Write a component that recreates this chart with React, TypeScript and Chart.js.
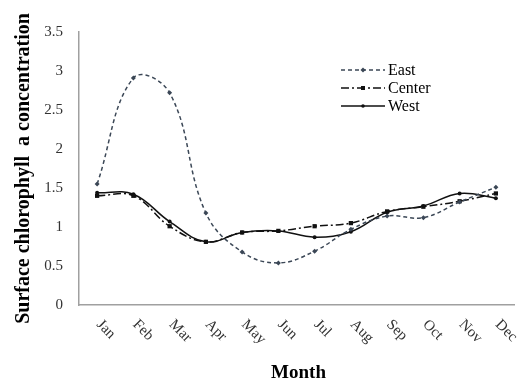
import React, { useEffect, useRef } from "react";
import { Chart, registerables } from "chart.js";

Chart.register(...registerables);

const months = ["Jan", "Feb", "Mar", "Apr", "May", "Jun", "Jul", "Aug", "Sep", "Oct", "Nov", "Dec"];
const east = [1.55, 2.91, 2.72, 1.18, 0.68, 0.54, 0.69, 0.97, 1.14, 1.12, 1.32, 1.51];
const center = [1.4, 1.4, 1.01, 0.81, 0.93, 0.95, 1.01, 1.05, 1.2, 1.26, 1.33, 1.43];
const west = [1.44, 1.42, 1.07, 0.81, 0.93, 0.95, 0.87, 0.94, 1.19, 1.27, 1.43, 1.37];
const yTitle = "Surface chlorophyll  a concentration";
const xTitle = "Month";

const EAST_COLOR = "#3b4756";
const SERIF = "'Liberation Serif', 'Times New Roman', serif";

const legendItems = [
  { label: "East", color: EAST_COLOR, dash: [4, 3], marker: "diamond" },
  { label: "Center", color: "#111", dash: [8, 3, 2, 3], marker: "rect" },
  { label: "West", color: "#111", dash: [], marker: "circle" },
];

function drawMarker(ctx: CanvasRenderingContext2D, kind: string, x: number, y: number, color: string) {
  ctx.save();
  ctx.fillStyle = color;
  ctx.setLineDash([]);
  ctx.beginPath();
  if (kind === "rect") {
    ctx.rect(x - 2, y - 2, 4, 4);
  } else if (kind === "diamond") {
    ctx.moveTo(x, y - 2.5);
    ctx.lineTo(x + 2.5, y);
    ctx.lineTo(x, y + 2.5);
    ctx.lineTo(x - 2.5, y);
    ctx.closePath();
  } else {
    ctx.arc(x, y, 1.8, 0, Math.PI * 2);
  }
  ctx.fill();
  ctx.restore();
}

const decorPlugin = {
  id: "decor",
  afterDraw(chart: any) {
    const ctx: CanvasRenderingContext2D = chart.ctx;
    const xs = chart.scales.x;
    const area = chart.chartArea;
    ctx.save();
    // x tick labels rotated clockwise
    ctx.fillStyle = "#333";
    ctx.font = `15px ${SERIF}`;
    ctx.textAlign = "left";
    ctx.textBaseline = "top";
    months.forEach((m, i) => {
      const px = xs.getPixelForTick(i);
      ctx.save();
      ctx.translate(px + 7, area.bottom + 12);
      ctx.rotate(Math.PI / 4);
      ctx.fillText(m, 0, 0);
      ctx.restore();
    });
    // axis titles
    ctx.fillStyle = "#000";
    ctx.font = `bold 19px ${SERIF}`;
    ctx.textAlign = "center";
    ctx.textBaseline = "alphabetic";
    ctx.fillText(xTitle, (area.left + area.right) / 2 + 2, 378);
    ctx.save();
    ctx.translate(29, (area.top + area.bottom) / 2);
    ctx.rotate(-Math.PI / 2);
    ctx.font = `bold 20px ${SERIF}`;
    ctx.textBaseline = "alphabetic";
    ctx.fillText(yTitle, 0, 0);
    ctx.restore();
    // legend
    ctx.font = `16px ${SERIF}`;
    ctx.textAlign = "left";
    ctx.textBaseline = "middle";
    legendItems.forEach((it, i) => {
      const y = 70 + i * 18;
      ctx.save();
      ctx.strokeStyle = it.color;
      ctx.lineWidth = 1.3;
      ctx.setLineDash(it.dash);
      ctx.beginPath();
      ctx.moveTo(341, y);
      ctx.lineTo(385, y);
      ctx.stroke();
      ctx.restore();
      drawMarker(ctx, it.marker, 363, y, it.color);
      ctx.fillStyle = "#000";
      ctx.fillText(it.label, 388, y + 1);
    });
    ctx.restore();
  },
};

export default function App() {
  const ref = useRef<HTMLCanvasElement | null>(null);
  useEffect(() => {
    document.body.style.margin = "0";
    document.body.style.overflow = "hidden";
    const canvas = ref.current!;
    const chart = new Chart(canvas, {
      type: "line",
      data: {
        labels: months,
        datasets: [
          {
            label: "East",
            data: east,
            borderColor: EAST_COLOR,
            backgroundColor: EAST_COLOR,
            borderWidth: 1.5,
            borderDash: [4, 3],
            pointStyle: "rectRot",
            pointRadius: 2.5,
            pointBorderWidth: 0,
            tension: 0.4,
            fill: false,
          },
          {
            label: "Center",
            data: center,
            borderColor: "#111",
            backgroundColor: "#111",
            borderWidth: 1.5,
            borderDash: [8, 3, 2, 3],
            pointStyle: "rect",
            pointRadius: 3,
            pointBorderWidth: 0,
            tension: 0.4,
            fill: false,
          },
          {
            label: "West",
            data: west,
            borderColor: "#111",
            backgroundColor: "#111",
            borderWidth: 1.5,
            pointStyle: "circle",
            pointRadius: 2,
            pointBorderWidth: 0,
            tension: 0.4,
            fill: false,
          },
        ],
      },
      options: {
        animation: false,
        responsive: false,
        maintainAspectRatio: false,
        devicePixelRatio: 1,
        layout: { padding: { top: 32, right: 0, left: 0, bottom: 0 } },
        plugins: {
          legend: { display: false },
          tooltip: { enabled: false },
          title: { display: false },
        },
        scales: {
          x: {
            offset: true,
            grid: { display: false },
            border: { display: true, color: "#a0a0a0", width: 1.5 },
            ticks: { display: false },
            afterFit: (s: any) => {
              s.height = 76;
            },
          },
          y: {
            min: 0,
            max: 3.5,
            grid: { display: false, drawTicks: false },
            border: { display: true, color: "#a0a0a0", width: 1.5 },
            ticks: {
              stepSize: 0.5,
              padding: 16,
              color: "#333",
              font: { family: SERIF, size: 15 },
              callback: (v: any) => String(v),
            },
            afterFit: (s: any) => {
              s.width = 79;
            },
          },
        },
      },
      plugins: [decorPlugin],
    });
    return () => chart.destroy();
  }, []);
  return (
    <div style={{ width: 518, height: 381 }}>
      <canvas ref={ref} width={518} height={381} style={{ display: "block" }} />
    </div>
  );
}
